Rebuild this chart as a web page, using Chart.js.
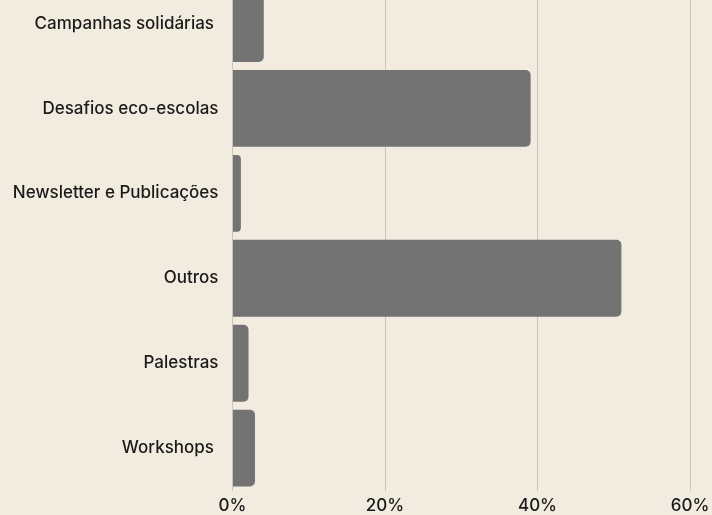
<!DOCTYPE html>
<html>
<head>
<meta charset="utf-8">
<script src="https://cdn.jsdelivr.net/npm/chart.js@4"></script>
<style>
  html, body { margin: 0; padding: 0; background: #f2ece0; }
  #wrap { position: relative; width: 712px; height: 515px; overflow: hidden; background: #f2ece0; }
  #box { position: absolute; left: 0; top: -19px; width: 712px; height: 542px; }
</style>
</head>
<body>
<div id="wrap"><div id="box"><canvas id="chart"></canvas></div></div>
<script>
// categories (trailing spaces kept as in the source labels)
const categories = [
  "Campanhas solidárias ",
  "Desafios eco-escolas",
  "Newsletter e Publicações",
  "Outros",
  "Palestras",
  "Workshops "
];
// share of answers, %
const shares = [4.1, 39.1, 1.1, 51.0, 2.1, 2.95];
const xTicks = [0, 20, 40, 60];

const textColor = "#1a1a1a";
const font = "Inter, 'Noto Sans', sans-serif";

new Chart(document.getElementById("chart"), {
  type: "bar",
  data: {
    labels: categories,
    datasets: [{
      data: shares,
      backgroundColor: "#737373",
      borderRadius: 5,
      borderSkipped: "start",
      categoryPercentage: 1,
      barPercentage: 0.905
    }]
  },
  options: {
    indexAxis: "y",
    responsive: true,
    maintainAspectRatio: false,
    animation: false,
    layout: { padding: { top: 0, right: 0, bottom: 2, left: 0 } },
    plugins: { legend: { display: false }, tooltip: { enabled: false } },
    scales: {
      x: {
        min: 0,
        max: xTicks[xTicks.length - 1],
        afterBuildTicks: (scale) => { scale.ticks = xTicks.map(v => ({ value: v })); },
        afterFit: (scale) => { scale.paddingRight = 22; },
        grid: { color: "#cbc5b9", lineWidth: 1, drawTicks: false },
        border: { display: false },
        ticks: {
          padding: 5,
          color: textColor,
          font: { family: font, size: 17, weight: 500 },
          callback: (v) => v + "%"
        }
      },
      y: {
        grid: { display: false, drawTicks: false },
        border: { display: false },
        afterFit: (scale) => {
          scale.width = 232.5;
          scale.paddingTop = 0;
          scale.paddingBottom = 0;
        },
        ticks: {
          padding: 14,
          color: textColor,
          font: { family: font, size: 17, weight: 500 }
        }
      }
    }
  }
});
</script>
</body>
</html>
